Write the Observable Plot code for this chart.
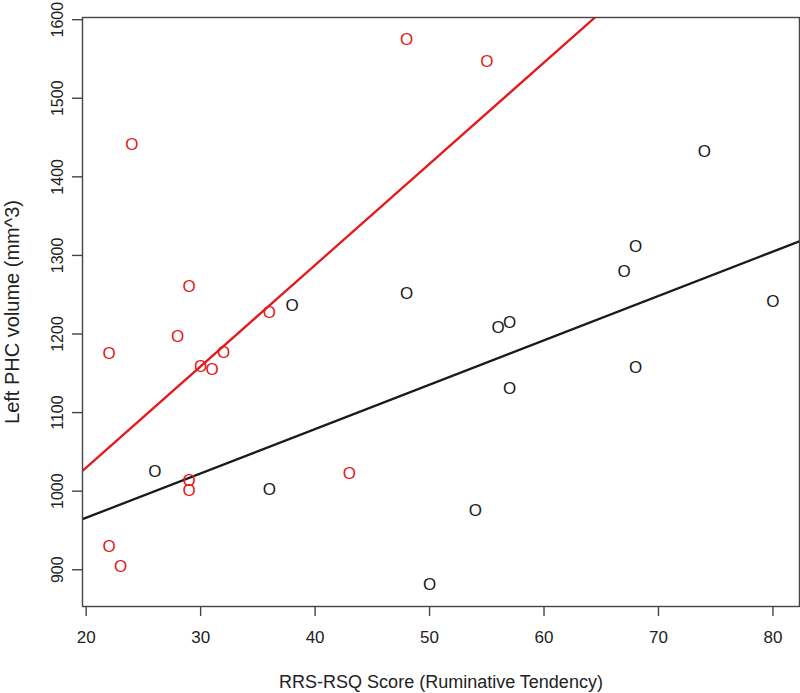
<!DOCTYPE html>
<html>
<head>
<meta charset="utf-8">
<script src="https://cdn.jsdelivr.net/npm/d3@7"></script>
<script src="https://cdn.jsdelivr.net/npm/@observablehq/plot@0.6"></script>
<style>
  html, body { margin: 0; padding: 0; background: #fff; }
</style>
</head>
<body>
<div id="chart"></div>
<script>
// Red group
const redX = [24, 48, 55, 29, 22, 28, 30, 31, 32, 36, 29, 29, 43, 22, 23];
const redY = [1441, 1575, 1547, 1261, 1175, 1197, 1158, 1155, 1176, 1227, 1013, 1001, 1022, 930, 904];
// Black group
const blackX = [26, 36, 38, 48, 50, 54, 56, 57, 57, 67, 68, 68, 74, 80];
const blackY = [1025, 1002, 1236, 1251, 881, 975, 1208, 1214, 1131, 1279, 1311, 1157, 1432, 1241];

const xTicks = [20, 30, 40, 50, 60, 70, 80];
const yTicks = [900, 1000, 1100, 1200, 1300, 1400, 1500, 1600];
const xTitle = "RRS-RSQ Score (Ruminative Tendency)";
const yTitle = "Left PHC volume (mm^3)";

const RED = "#e21b1f";
const BLACK = "#1a1a1a";

const red = redX.map((x, i) => ({x, y: redY[i]}));
const black = blackX.map((x, i) => ({x, y: blackY[i]}));

// R-style 4% axis extension
function rExt(vals) {
  const [a, b] = d3.extent(vals);
  const p = (b - a) * 0.04;
  return [a - p, b + p];
}
const xDom = rExt(redX.concat(blackX));
const yDom = rExt(redY.concat(blackY));

function linreg(xs, ys) {
  const mx = d3.mean(xs), my = d3.mean(ys);
  let sxy = 0, sxx = 0;
  xs.forEach((x, i) => { sxy += (x - mx) * (ys[i] - my); sxx += (x - mx) * (x - mx); });
  const b = sxy / sxx, a = my - b * mx;
  return xDom.map(x => ({x, y: a + b * x}));
}
const redLine = linreg(redX, redY);
const blackLine = linreg(blackX, blackY);

const font = "'Liberation Sans', Arial, Helvetica, sans-serif";

const chart = Plot.plot({
  width: 800,
  height: 693,
  marginLeft: 82,
  marginRight: 1,
  marginTop: 17,
  marginBottom: 87,
  style: {fontFamily: font, fontSize: "17px", color: "#222", background: "#fff", overflow: "visible"},
  x: {domain: xDom},
  y: {domain: yDom},
  marks: [
    Plot.line(blackLine, {x: "x", y: "y", stroke: BLACK, strokeWidth: 2.3, clip: true}),
    Plot.line(redLine, {x: "x", y: "y", stroke: RED, strokeWidth: 2.3, clip: true}),
    Plot.text(black, {x: "x", y: "y", text: () => "O", fill: BLACK, fontSize: 17}),
    Plot.text(red, {x: "x", y: "y", text: () => "O", fill: RED, fontSize: 17}),
    Plot.frame({stroke: "#444", strokeWidth: 1.4}),
    Plot.axisX({ticks: xTicks, tickFormat: d => String(d), tickSize: 10, tickPadding: 14, stroke: "#444", strokeWidth: 1.4, fontSize: 17, fill: "#222", label: null}),
    Plot.axisY({ticks: yTicks, tickFormat: d => String(d), tickSize: 10, tickPadding: 10, tickRotate: -90, stroke: "#444", strokeWidth: 1.4, fontSize: 16, fill: "#222", label: null}),
    Plot.text([xTitle], {frameAnchor: "bottom", dy: 81, fontSize: 18, fill: "#222"}),
    Plot.text([yTitle], {frameAnchor: "left", dx: -70, rotate: -90, textAnchor: "middle", fontSize: 20, fill: "#222"})
  ]
});
document.getElementById("chart").appendChild(chart);
</script>
</body>
</html>
